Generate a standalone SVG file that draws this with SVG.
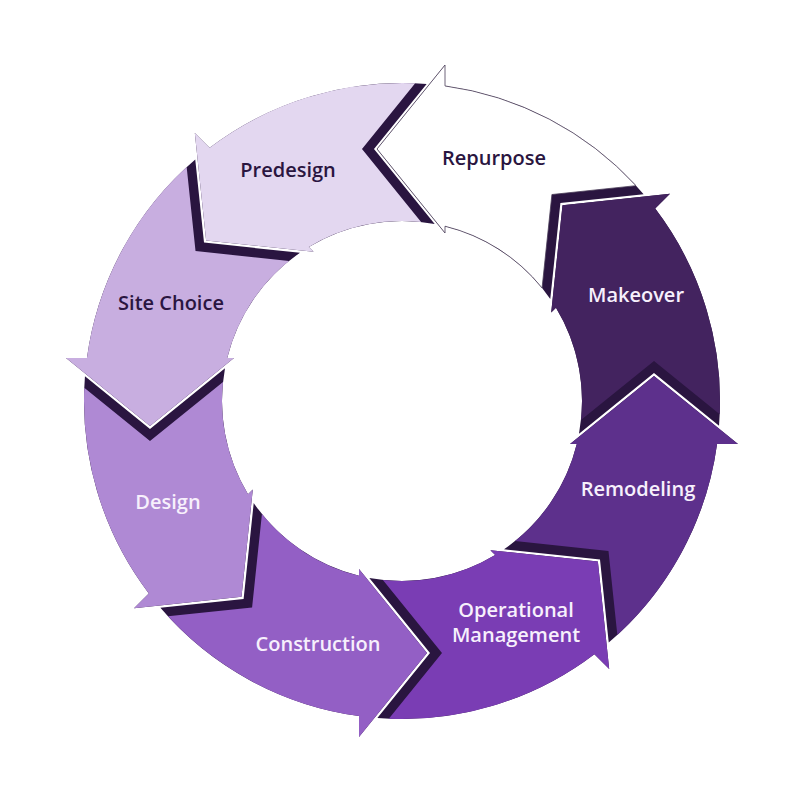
<svg xmlns="http://www.w3.org/2000/svg" xmlns:xlink="http://www.w3.org/1999/xlink" width="801" height="801" viewBox="0 0 801 801">
<style>
  .shade { fill: #2a1540; }
  .lbl { font-family: "Open Sans", "Liberation Sans", sans-serif; font-weight: 600; font-size: 20px; text-anchor: middle; }
  .dk { fill: #2a1540; }
  .lt { fill: #f7f0fc; }
</style>
<defs>
  <path id="arrowDark" d="M315.08,43 A318,318 0 0 1 206.75,241.61 L197.99,158.39 L102.04,148.28 A180,180 0 0 0 174.79,43 L168,43 L252,-25 L336,43 Z"/>
  <path id="arrowFill" d="M315.08,43 A318,318 0 0 1 215.34,234.0 L206.48,149.91 L113.06,140.07 A180,180 0 0 0 174.79,43 L168,43 L252,-25 L336,43 Z"/>
</defs>
<rect width="801" height="801" fill="#ffffff"/>

<g id="repurpose">
  <use href="#arrowDark" class="shade" transform="translate(402 401) rotate(270)"/>
  <use href="#arrowFill" fill="#ffffff" stroke="#4a3d58" stroke-width="0.8" transform="translate(402 401) rotate(270)"/>
  <text class="lbl dk" x="494" y="165">Repurpose</text>
</g>
<g id="predesign">
  <use href="#arrowDark" class="shade" transform="translate(402 401) rotate(225)"/>
  <use href="#arrowFill" fill="#e3d7f0" transform="translate(402 401) rotate(225)"/>
  <text class="lbl dk" x="288" y="177">Predesign</text>
</g>
<g id="site-choice">
  <use href="#arrowDark" class="shade" transform="translate(402 401) rotate(180)"/>
  <use href="#arrowFill" fill="#c8aee0" transform="translate(402 401) rotate(180)"/>
  <text class="lbl dk" x="171" y="310">Site Choice</text>
</g>
<g id="design">
  <use href="#arrowDark" class="shade" transform="translate(402 401) rotate(135)"/>
  <use href="#arrowFill" fill="#af89d4" transform="translate(402 401) rotate(135)"/>
  <text class="lbl lt" x="168" y="509">Design</text>
</g>
<g id="construction">
  <use href="#arrowDark" class="shade" transform="translate(402 401) rotate(90)"/>
  <use href="#arrowFill" fill="#935fc5" transform="translate(402 401) rotate(90)"/>
  <text class="lbl lt" x="318" y="651">Construction</text>
</g>
<g id="operational-management">
  <use href="#arrowDark" class="shade" transform="translate(402 401) rotate(45)"/>
  <use href="#arrowFill" fill="#7a3db4" transform="translate(402 401) rotate(45)"/>
  <text class="lbl lt" x="516" y="617">Operational</text>
  <text class="lbl lt" x="516" y="642">Management</text>
</g>
<g id="remodeling">
  <use href="#arrowDark" class="shade" transform="translate(402 401) rotate(0)"/>
  <use href="#arrowFill" fill="#5d308c" transform="translate(402 401) rotate(0)"/>
  <text class="lbl lt" x="638" y="496">Remodeling</text>
</g>
<g id="makeover">
  <use href="#arrowDark" class="shade" transform="translate(402 401) rotate(315)"/>
  <use href="#arrowFill" fill="#43235f" transform="translate(402 401) rotate(315)"/>
  <text class="lbl lt" x="636" y="302">Makeover</text>
</g>
</svg>
